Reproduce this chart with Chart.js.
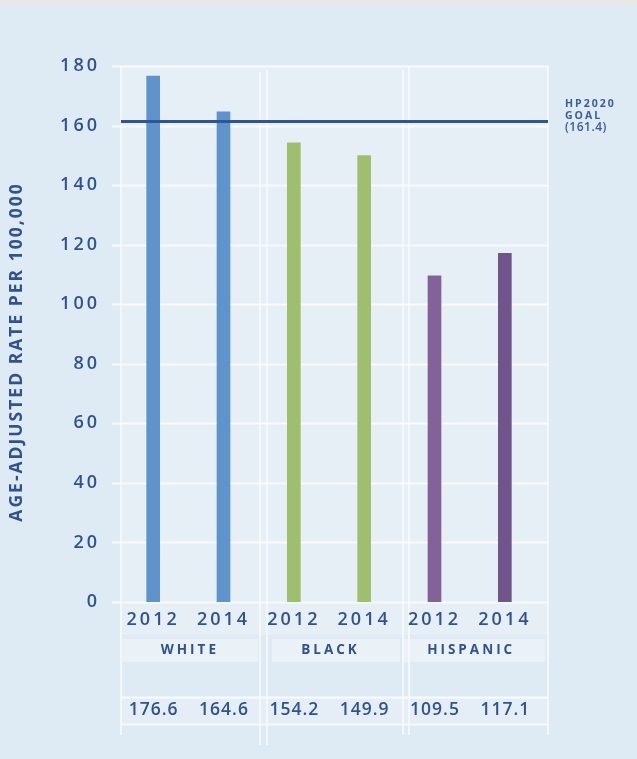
<!DOCTYPE html>
<html>
<head>
<meta charset="utf-8">
<script src="https://cdn.jsdelivr.net/npm/chart.js@4.4.0/dist/chart.umd.min.js"></script>
<style>
  html, body { margin: 0; padding: 0; background: #dfebf4; }
  #wrap { width: 637px; height: 759px; position: relative; }
  canvas { display: block; }
</style>
</head>
<body>
<div id="wrap"><canvas id="chart" width="637" height="759"></canvas></div>
<script>
// chart data
const groups = ['WHITE', 'BLACK', 'HISPANIC'];
const years = ['2012', '2014', '2012', '2014', '2012', '2014'];
const rates = [176.6, 164.6, 154.2, 149.9, 109.5, 117.1];
const rateLabels = ['176.6', '164.6', '154.2', '149.9', '109.5', '117.1'];
const barColors = ['#5f93cb', '#5f93cb', '#a0bf6e', '#a0bf6e', '#83629a', '#6f5589'];
const goalValue = 161.4;
const goalLabel = ['HP2020', 'GOAL', '(161.4)'];
const yTitle = 'AGE-ADJUSTED RATE PER 100,000';

const ink = '#2f5391';
const fontFamily = '"Open Sans", "DejaVu Sans", sans-serif';

// background, plot panel, grid lines and the table below the axis
const backdrop = {
    id: 'backdrop',
    beforeDraw(chart) {
        const ctx = chart.ctx;
        const y = chart.scales.y;
        const area = chart.chartArea;
        ctx.save();
        ctx.fillStyle = '#dfebf4';
        ctx.fillRect(0, 0, chart.width, chart.height);
        ctx.fillStyle = '#e8e8e8';
        ctx.fillRect(0, 0, chart.width, 5);

        // plot panel
        ctx.fillStyle = '#e6eef6';
        ctx.fillRect(121, area.top, 427, area.bottom - area.top + 33);

        // group label boxes
        ctx.fillStyle = '#eaf2f8';
        ctx.fillRect(122, 639, 136, 23);
        ctx.fillRect(272, 639, 128, 23);
        ctx.fillRect(403, 639, 142, 23);

        // value row
        ctx.fillStyle = '#e5eef6';
        ctx.fillRect(121, 697, 427, 27);

        // horizontal grid
        ctx.strokeStyle = 'rgba(255,255,255,0.75)';
        ctx.lineWidth = 2;
        y.ticks.forEach(t => {
            const py = Math.round(y.getPixelForValue(t.value)) + 0.5;
            ctx.beginPath();
            ctx.moveTo(112, py);
            ctx.lineTo(548, py);
            ctx.stroke();
        });
        ctx.beginPath();
        ctx.moveTo(121, 697.5); ctx.lineTo(548, 697.5);
        ctx.moveTo(121, 724.5); ctx.lineTo(548, 724.5);
        ctx.stroke();

        // vertical separators
        ctx.lineWidth = 1.5;
        ctx.strokeStyle = 'rgba(255,255,255,0.8)';
        [[121, 66, 735], [260, 72, 745], [267, 70, 745], [403, 70, 735], [409, 66, 735], [548, 66, 735]].forEach(s => {
            ctx.beginPath();
            ctx.moveTo(s[0], s[1]);
            ctx.lineTo(s[0], s[2]);
            ctx.stroke();
        });
        ctx.restore();
        chart.ctx.letterSpacing = '3px';
    }
};

// goal line, labels, group names, value row
const extras = {
    id: 'extras',
    afterDatasetsDraw(chart) {
        const ctx = chart.ctx;
        const x = chart.scales.x;
        const y = chart.scales.y;
        ctx.save();

        const gy = y.getPixelForValue(goalValue);
        ctx.strokeStyle = '#2f5597';
        ctx.lineWidth = 3;
        ctx.beginPath();
        ctx.moveTo(121, gy);
        ctx.lineTo(548, gy);
        ctx.stroke();

        ctx.fillStyle = '#3a5c9c';
        ctx.textAlign = 'left';
        ctx.textBaseline = 'middle';
        ctx.letterSpacing = '2px';
        ctx.font = 'bold 10.5px ' + fontFamily;
        ctx.fillText(goalLabel[0], 565, 104);
        ctx.fillText(goalLabel[1], 565, 116);
        ctx.letterSpacing = '0.5px';
        ctx.font = '600 12px ' + fontFamily;
        ctx.fillText(goalLabel[2], 565, 128);

        // group names, centred under their two bars
        ctx.fillStyle = ink;
        ctx.textAlign = 'center';
        ctx.letterSpacing = '3px';
        ctx.font = 'bold 13.5px ' + fontFamily;
        groups.forEach((g, i) => {
            const cx = (x.getPixelForValue(i * 2) + x.getPixelForValue(i * 2 + 1)) / 2;
            ctx.fillText(g, cx + 1.5, 650);
        });

        // value row
        ctx.letterSpacing = '1px';
        ctx.font = '600 17.5px ' + fontFamily;
        rateLabels.forEach((v, i) => {
            ctx.fillText(v, x.getPixelForValue(i) + 0.5, 710);
        });

        // y axis title
        ctx.translate(17, 352);
        ctx.rotate(-Math.PI / 2);
        ctx.letterSpacing = '2px';
        ctx.font = 'bold 17.5px ' + fontFamily;
        ctx.fillText(yTitle, 0, 0);
        ctx.restore();
    }
};

new Chart(document.getElementById('chart'), {
    type: 'bar',
    data: {
        labels: years,
        datasets: [{
            data: rates,
            backgroundColor: barColors,
            barThickness: 13,
            borderWidth: 0
        }]
    },
    options: {
        responsive: false,
        animation: false,
        events: [],
        layout: { padding: { left: 0, right: 97, top: 66, bottom: 0 } },
        plugins: {
            legend: { display: false },
            tooltip: { enabled: false }
        },
        scales: {
            x: {
                grid: { display: false, drawTicks: false },
                border: { display: false },
                ticks: {
                    color: ink,
                    padding: 7,
                    font: { family: fontFamily, size: 18, weight: '600' },
                    maxRotation: 0
                },
                afterFit(scale) { scale.height = 157; }
            },
            y: {
                min: 0,
                max: 180,
                grid: { display: false, drawTicks: false },
                border: { display: false },
                ticks: {
                    stepSize: 20,
                    color: ink,
                    padding: 18,
                    font: { family: fontFamily, size: 18, weight: '600' }
                },
                afterFit(scale) { scale.width = 118; }
            }
        }
    },
    plugins: [backdrop, extras]
});
</script>
</body>
</html>
